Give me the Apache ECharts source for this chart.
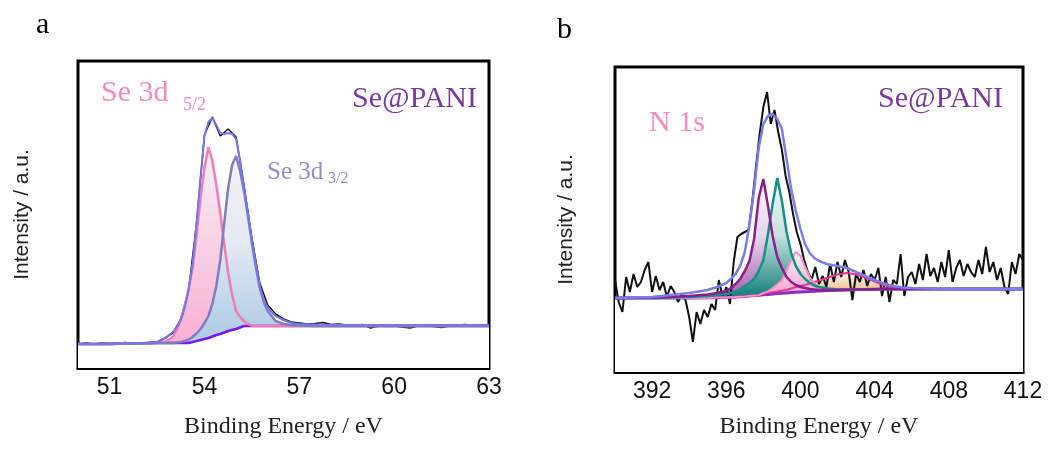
<!DOCTYPE html>
<html>
<head>
<meta charset="utf-8">
<script src="https://cdn.jsdelivr.net/npm/echarts@6/dist/echarts.min.js"></script>
<style>
  html, body { margin: 0; padding: 0; background: #fff; }
  #chart { width: 1048px; height: 453px; }
</style>
</head>
<body>
<div id="chart"></div>
<script>
// ---------- panel a : Se 3d ----------
const ticksA = [51, 54, 57, 60, 63];
const energyA = [50, 50.5, 51, 51.5, 52, 52.5, 52.75, 53, 53.125, 53.25, 53.375, 53.5, 53.625, 53.75, 53.875, 54,
  54.125, 54.25, 54.375, 54.5, 54.625, 54.75, 54.875, 55, 55.125, 55.25, 55.375, 55.5, 55.625, 55.75, 55.875, 56,
  56.25, 56.5, 56.75, 57, 57.5, 58, 58.5, 59, 59.5, 60, 60.5, 61, 61.5, 62, 62.5, 63];
const backgroundA = [24, 24, 24, 24.5, 24.5, 25, 25, 25, 25, 25, 25, 25, 26, 27, 28, 29,
  30, 31.5, 33, 34, 35.5, 37, 38, 39, 40.5, 42, 42, 42, 42, 42, 42, 42,
  42, 42, 42, 42, 42, 42, 42, 42, 42, 42, 42, 42, 42, 42, 42, 42];
const se3d52A = [24, 24, 24, 24.5, 24.5, 25, 26, 31, 38, 48, 62, 80, 100, 132, 170, 200,
  221, 207, 183, 155, 124, 95, 73, 57, 51, 47, 44, 42.5, 42, 42, 42, 42,
  42, 42, 42, 42, 42, 42, 42, 42, 42, 42, 42, 42, 42, 42, 42, 42];
const se3d32A = [24, 24, 24, 24.5, 24.5, 25, 25, 25, 25.5, 26, 27, 28.5, 31, 34.5, 39, 45,
  52, 64, 82, 108, 145, 180, 203, 212, 197, 177, 152, 125, 101, 80, 66, 57,
  47, 44, 43, 42.5, 42, 42, 42, 42, 42, 42, 42, 42, 42, 42, 42, 42];
const envelopeA = [24, 24, 24.5, 24.5, 25, 26, 29.5, 36, 41, 48, 60, 78, 104, 145, 190, 232,
  246, 250, 243, 235, 234, 235, 234, 229, 208, 181, 155, 128, 104, 82, 68, 60,
  52, 48, 45, 44, 43.5, 43, 43, 43, 43, 43, 43, 43, 43, 43, 43, 43];
const rawEnergyA = [50, 50.25, 50.5, 50.75, 51, 51.25, 51.5, 51.75, 52, 52.25, 52.5, 52.75, 53, 53.25, 53.5, 53.75,
  54, 54.25, 54.5, 54.75, 55, 55.25, 55.5, 55.75, 56, 56.25, 56.5, 56.75, 57, 57.25, 57.5, 57.75,
  58, 58.25, 58.5, 58.75, 59, 59.25, 59.5, 59.75, 60, 60.25, 60.5, 60.75, 61, 61.25, 61.5, 61.75,
  62, 62.25, 62.5, 62.75, 63];
const rawA = [24, 25, 24, 25, 24.5, 25, 25.5, 24.5, 25, 25.5, 26, 30, 35, 49, 78, 145,
  233, 251, 232, 239, 231, 183, 130, 85, 63, 54, 49, 46, 45, 44, 44.5, 45.5,
  43.5, 44, 43, 42.5, 43.5, 40, 42, 43, 42, 41, 40, 42, 42.5, 41.5, 40.5, 42,
  43, 43.5, 42, 43, 42.5];

// ---------- panel b : N 1s ----------
const ticksB = [392, 396, 400, 404, 408, 412];
const energyB = [390, 391, 392, 393, 394, 395, 395.5, 396, 396.25, 396.5, 396.75, 397, 397.25, 397.5, 397.75, 398,
  398.25, 398.5, 398.75, 399, 399.25, 399.5, 399.75, 400, 400.25, 400.5, 400.75, 401, 401.5, 402, 402.5, 403,
  403.5, 404, 404.5, 405, 405.5, 406, 407, 408, 410, 412];
const backgroundB = [74, 74, 74, 74, 74, 74.2, 74.4, 74.6, 74.8, 75, 75.3, 75.6, 76, 76.4, 76.8, 77.2,
  77.6, 78, 78.4, 78.8, 79.1, 79.4, 79.7, 80, 80.3, 80.5, 80.8, 81, 81.4, 81.8, 82.1, 82.4,
  82.6, 82.8, 83, 83, 83, 83, 83, 83, 83, 83];
const peak1B = [74, 74, 74.5, 75, 76, 77.5, 79, 81, 84, 88, 93, 101, 111, 133, 174, 193,
  166, 136, 115, 104, 95, 90, 87, 85, 84, 83, 82.5, 82.3, 82, 82, 82.3, 82.5,
  82.6, 82.8, 83, 83, 83, 83, 83, 83, 83, 83];
const peak2B = [74, 74, 74, 74.5, 75, 76, 77, 78, 79, 80.5, 83, 86, 89, 93, 101, 112,
  138, 168, 194, 171, 140, 119, 106, 98, 93, 89, 86.5, 85, 83.5, 82.5, 82.5, 82.6,
  82.7, 82.8, 83, 83, 83, 83, 83, 83, 83, 83];
const peak3B = [74, 74, 74, 74, 74, 74.2, 74.4, 74.6, 74.8, 75, 75.3, 75.6, 76, 76.4, 76.8, 79,
  80.5, 84, 87.5, 92, 101, 112, 120, 116, 105, 95, 89, 85, 82.5, 82, 82.1, 82.4,
  82.6, 82.8, 83, 83, 83, 83, 83, 83, 83, 83];
const peak4B = [74, 74, 74, 74, 74, 74.2, 74.4, 74.6, 74.8, 75, 75.3, 75.6, 76, 76.4, 76.8, 78,
  79, 79.8, 80.5, 81.3, 82, 83.5, 85, 86, 87, 88.5, 90, 91.5, 94.5, 97.5, 99, 97.5,
  94.5, 90.5, 87, 84.5, 83.2, 83, 83, 83, 83, 83];
const envelopeB = [74, 74.5, 75, 77, 79, 82, 85, 89, 93, 98, 106, 120, 147, 182, 224, 248,
  256, 258, 253, 243, 213, 183, 161, 143, 128, 119, 114, 111, 107.5, 106, 104, 100,
  96, 92, 88.5, 86, 84.5, 84, 83.5, 83, 83, 83];
const rawEnergyB = [390, 390.2, 390.4, 390.6, 390.8, 391, 391.2, 391.4, 391.6, 391.8, 392, 392.2, 392.4, 392.6, 392.8,
  393, 393.2, 393.4, 393.6, 393.8, 394, 394.2, 394.4, 394.6, 394.8, 395, 395.2, 395.4, 395.6, 395.8,
  396, 396.2, 396.4, 396.6, 396.8, 397, 397.2, 397.4, 397.6, 397.8, 398, 398.2, 398.4, 398.6, 398.8,
  399, 399.2, 399.4, 399.6, 399.8, 400, 400.2, 400.4, 400.6, 400.8, 401, 401.2, 401.4, 401.6, 401.8,
  402, 402.2, 402.4, 402.6, 402.8, 403, 403.2, 403.4, 403.6, 403.8, 404, 404.2, 404.4, 404.6, 404.8,
  405, 405.2, 405.4, 405.6, 405.8, 406, 406.2, 406.4, 406.6, 406.8, 407, 407.2, 407.4, 407.6, 407.8,
  408, 408.2, 408.4, 408.6, 408.8, 409, 409.2, 409.4, 409.6, 409.8, 410, 410.2, 410.4, 410.6, 410.8,
  411, 411.2, 411.4, 411.6, 411.8, 412];
const rawB = [92, 70, 60, 95, 80, 98, 85, 90, 102, 110, 80, 96, 82, 90, 75,
  86, 80, 70, 78, 72, 55, 30, 60, 48, 62, 55, 68, 62, 92, 75,
  85, 68, 110, 135, 138, 140, 142, 170, 205, 238, 265, 280, 248, 262, 240,
  222, 196, 180, 158, 140, 128, 112, 100, 92, 105, 88, 96, 85, 108, 90,
  110, 95, 112, 100, 72, 98, 90, 102, 86, 98, 92, 104, 76, 95, 70,
  92, 88, 118, 76, 95, 100, 88, 108, 92, 118, 96, 104, 90, 110, 95,
  122, 90, 104, 112, 96, 108, 100, 95, 112, 98, 125, 100, 110, 92, 104,
  85, 78, 110, 98, 118, 112];

const chart = echarts.init(document.getElementById("chart"));

// grid boxes (px) and the y range of each panel
const boxA = { left: 78, top: 61, width: 411, height: 307, ymax: 307 };
const boxB = { left: 615, top: 67, width: 408, height: 305, ymax: 305 };
const boxes = [boxA, boxB];
const py = (box, v) => box.top + box.height * (1 - v / box.ymax);

const pairs = (xs, ys) => xs.map((x, i) => [x, ys[i]]);

// filled component: area down to the axis, the part under the background is masked in white later.
// gradient runs from the peak top to the background level under the peak
function fill(idx, xs, comp, base, stops) {
  const box = boxes[idx];
  let k = 0;
  comp.forEach((v, i) => { if (v > comp[k]) k = i; });
  const y0 = py(box, comp[k]), y1 = py(box, base[k]);
  const color = new echarts.graphic.LinearGradient(0, y0, 0, y1,
    stops.map((c, i) => ({ offset: i / (stops.length - 1), color: c })), true);
  return { type: "line", xAxisIndex: idx, yAxisIndex: idx, symbol: "none", silent: true,
    lineStyle: { width: 0 }, areaStyle: { color: color, opacity: 1 }, data: pairs(xs, comp) };
}
function mask(idx, xs, base) {
  return { type: "line", xAxisIndex: idx, yAxisIndex: idx, symbol: "none", silent: true,
    lineStyle: { width: 0 }, areaStyle: { color: "#fff", opacity: 1 }, data: pairs(xs, base) };
}
function line(idx, xs, ys, color, width) {
  return { type: "line", xAxisIndex: idx, yAxisIndex: idx, symbol: "none", silent: true,
    lineStyle: { color: color, width: width }, data: pairs(xs, ys) };
}
function axisX(idx, min, max, ticks, gap) {
  return {
    type: "value", gridIndex: idx, min: min, max: max,
    name: "Binding Energy / eV", nameLocation: "middle", nameGap: gap,
    nameTextStyle: { fontFamily: "Liberation Serif", fontSize: 24, color: "#222" },
    axisLine: { show: true, onZero: false, lineStyle: { color: "#000", width: 3 } },
    axisTick: { show: true, inside: true, length: 6, customValues: ticks, lineStyle: { color: "#000", width: 2 } },
    axisLabel: { customValues: ticks, margin: 8, fontFamily: "Liberation Sans", fontSize: 23, color: "#111" },
    splitLine: { show: false },
  };
}
function axisY(idx, max, gap) {
  return {
    type: "value", gridIndex: idx, min: 0, max: max,
    name: "Intensity / a.u.", nameLocation: "middle", nameGap: gap,
    nameTextStyle: { fontFamily: "Liberation Sans", fontSize: 21, color: "#222" },
    axisLine: { show: false }, axisTick: { show: false }, axisLabel: { show: false },
    splitLine: { show: false },
  };
}
function label(x, y, text, size, color, align) {
  return { type: "text", x: x, y: y, silent: true,
    style: { text: text, fontFamily: "Liberation Serif", fontSize: size, fill: color,
      align: align || "left", verticalAlign: "middle" } };
}

const pinkTxt = "#F58CBF", lavTxt = "#8F8FC9", purpleTxt = "#7B3A9E";

const option = {
  animation: false,
  backgroundColor: "#fff",
  grid: [
    { left: boxA.left, top: boxA.top, width: boxA.width, height: boxA.height, show: true,
      borderColor: "#000", borderWidth: 3, backgroundColor: "transparent" },
    { left: boxB.left, top: boxB.top, width: boxB.width, height: boxB.height, show: true,
      borderColor: "#000", borderWidth: 3, backgroundColor: "transparent" },
  ],
  xAxis: [axisX(0, 50, 63, ticksA, 47), axisX(1, 390, 412, ticksB, 43)],
  yAxis: [axisY(0, boxA.ymax, 45), axisY(1, boxB.ymax, 38)],
  graphic: [
    label(36, 25, "a", 30, "#000"),
    label(557, 30, "b", 30, "#000"),
    label(101, 93, "Se 3d", 30, pinkTxt),
    label(183, 105, "5/2", 18, pinkTxt),
    label(267, 172, "Se 3d", 25, lavTxt),
    label(328, 179, "3/2", 16, lavTxt),
    label(477, 99, "Se@PANI", 30, purpleTxt, "right"),
    label(649, 123, "N 1s", 30, pinkTxt),
    label(1003, 99, "Se@PANI", 30, purpleTxt, "right"),
  ],
  series: [
    // panel a
    fill(0, energyA, se3d52A, backgroundA, ["#F6F1F5", "#F9D2E4", "#F7B2D2"]),
    fill(0, energyA, se3d32A, backgroundA, ["#F3F3F3", "#E3EAF2", "#B2CDE7"]),
    mask(0, energyA, backgroundA),
    line(0, rawEnergyA, rawA, "#111", 1.5),
    line(0, energyA, backgroundA, "#7A16EC", 2.5),
    line(0, energyA, se3d52A, "#F27DB6", 2.5),
    line(0, energyA, se3d32A, "#7F7FC0", 2.5),
    line(0, energyA, envelopeA, "#7575F0", 2),
    // panel b
    fill(1, energyB, peak1B, backgroundB, ["#F8F6F9", "#E6D6EA", "#A862B2"]),
    fill(1, energyB, peak2B, backgroundB, ["#F5F8F8", "#C7E0DE", "#17877F"]),
    fill(1, energyB, peak4B, backgroundB, ["#FAF3F1", "#F6DCC6", "#F3BE8E"]),
    fill(1, energyB, peak3B, backgroundB, ["#FBF1F6", "#F5AACD"]),
    mask(1, energyB, backgroundB),
    line(1, rawEnergyB, rawB, "#111", 2),
    line(1, energyB, backgroundB, "#8A30C8", 3),
    line(1, energyB, peak4B, "#E6338F", 2),
    line(1, energyB, peak3B, "#F492C6", 2),
    line(1, energyB, peak2B, "#16918A", 2.5),
    line(1, energyB, peak1B, "#8C1F8E", 2.5),
    line(1, energyB, envelopeB, "#7C7CF0", 2.5),
  ],
};
chart.setOption(option);
window.addEventListener("resize", () => chart.resize());
</script>
</body>
</html>
